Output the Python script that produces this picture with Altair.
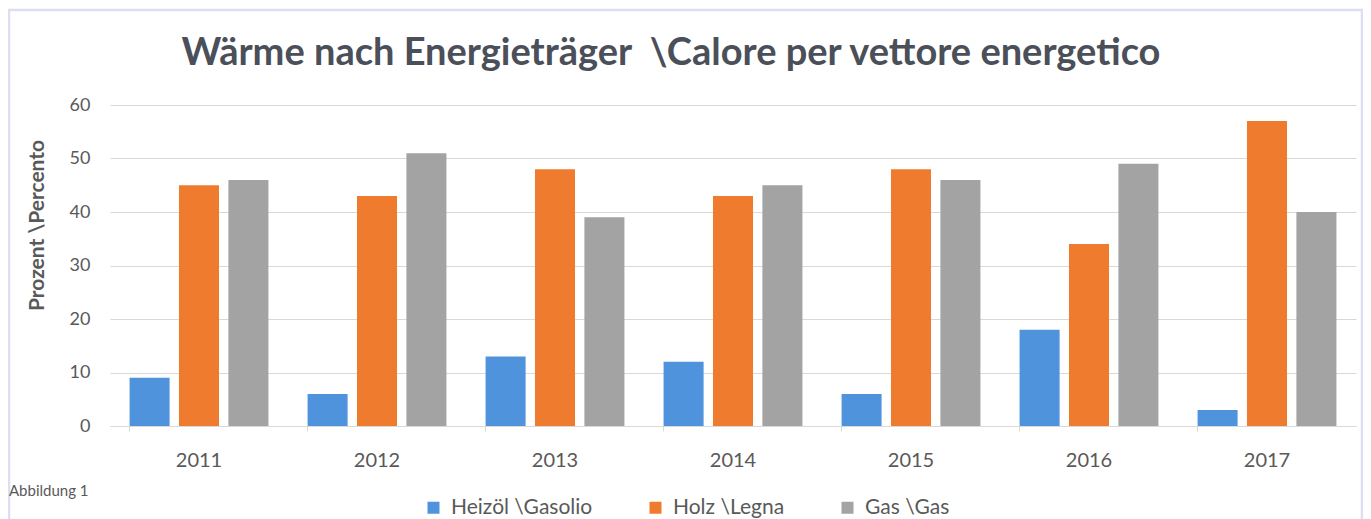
import altair as alt
import pandas as pd

years = ["2011", "2012", "2013", "2014", "2015", "2016", "2017"]
series = ["Heizöl \\Gasolio", "Holz \\Legna", "Gas \\Gas"]
heizoel = [9, 6, 13, 12, 6, 18, 3]
holz = [45, 43, 48, 43, 48, 34, 57]
gas = [46, 51, 39, 45, 46, 49, 40]
colors = ["#4f93dc", "#ef7b2f", "#a3a3a3"]
title_text = "Wärme nach Energieträger \u00a0\\Calore per vettore energetico"
note_text = "Abbildung 1"

rows = []
for i, y in enumerate(years):
    for s, vals in zip(series, [heizoel, holz, gas]):
        rows.append({"Jahr": y, "Serie": s, "Wert": vals[i]})
df = pd.DataFrame(rows)

W, H = 1246, 321

bars = alt.Chart(df).mark_bar().encode(
    x=alt.X("Jahr:N", sort=years,
            scale=alt.Scale(paddingInner=0.22, paddingOuter=0.11),
            axis=alt.Axis(title=None, labelAngle=0, labelFontSize=20, labelColor="#595959",
                          labelFont="Lato", labelPadding=19, domainColor="#d9d9d9",
                          tickColor="#d9d9d9", tickSize=5, bandPosition=0, grid=False)),
    xOffset=alt.XOffset("Serie:N", sort=series, scale=alt.Scale(paddingInner=0.19)),
    y=alt.Y("Wert:Q", scale=alt.Scale(domain=[0, 60]),
            axis=alt.Axis(title="Prozent \\Percento", values=[0, 10, 20, 30, 40, 50, 60],
                          labelFontSize=18, labelColor="#595959", labelFont="Lato", labelPadding=20,
                          domain=False, ticks=False, gridColor="#d9d9d9",
                          titleFont="Lato", titleFontSize=21, titleFontWeight="bold",
                          titleColor="#595959", titleAngle=-90, titleX=-73, titleY=120,
                          titleAlign="center", titleBaseline="middle")),
    color=alt.Color("Serie:N", sort=series,
                    scale=alt.Scale(domain=series, range=colors),
                    legend=alt.Legend(title=None, orient="none", direction="horizontal",
                                      legendX=313, legendY=392, symbolType="square",
                                      symbolSize=144, symbolStrokeWidth=0, labelFontSize=21,
                                      labelFont="Lato", labelColor="#595959", labelOffset=7,
                                      columnPadding=52, padding=0)),
)

text_df = pd.DataFrame({"t": [note_text], "title": [title_text]})
note = alt.Chart(text_df).mark_text(align="left", baseline="alphabetic", font="Lato",
                                     fontSize=15, color="#595959").encode(
    text="t:N", x=alt.value(-101), y=alt.value(391))

title = alt.Chart(text_df).mark_text(align="center", baseline="alphabetic", font="Lato",
                                      fontSize=38, fontWeight="bold", color="#4a4f59").encode(
    text="title:N", x=alt.value(561), y=alt.value(-40))

frame = alt.Chart(text_df).mark_rect(fill=None, stroke="#dcdff2", strokeWidth=2.5).encode(
    x=alt.value(-101), x2=alt.value(1252), y=alt.value(-95), y2=alt.value(440))

chart = alt.layer(frame, bars, note, title).properties(
    width=W, height=H,
    padding={"left": 102, "top": 97, "right": 7, "bottom": 93},
    autosize=alt.AutoSizeParams(type="none"),
    background="white",
).configure_view(stroke=None)

chart.save("out.html", embed_options={"renderer": "svg", "actions": False})
